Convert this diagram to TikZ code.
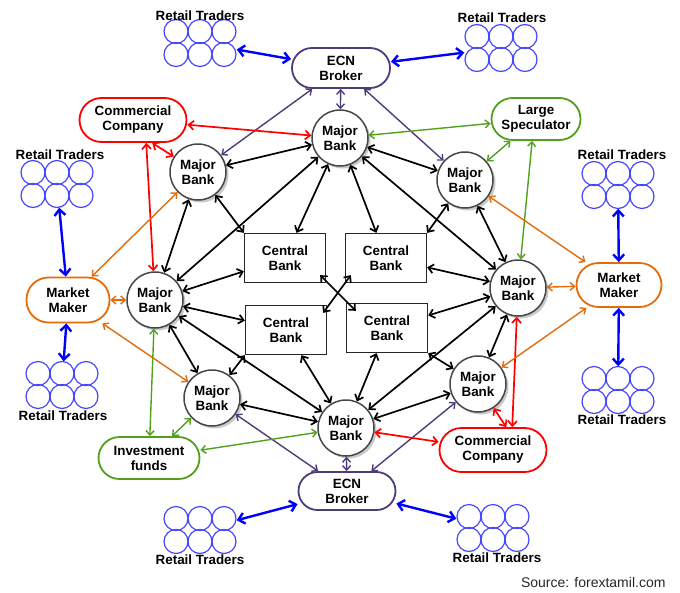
\documentclass[tikz,border=0pt]{standalone}
\usepackage{fontspec}
\setmainfont{Liberation Sans}
\usepackage{tikz}
\usetikzlibrary{calc,arrows.meta,shadows}

\definecolor{ecnpurple}{RGB}{78,60,122}
\definecolor{tradeblue}{RGB}{0,0,255}
\definecolor{ringblue}{RGB}{70,70,255}
\definecolor{specgreen}{RGB}{82,160,28}
\definecolor{makerorange}{RGB}{228,108,10}
\definecolor{bankgray}{RGB}{70,70,70}

\tikzset{
  bank/.style={circle, draw=bankgray, line width=1.5pt, fill=white, minimum size=56pt, inner sep=0pt, align=center,
    drop shadow={shadow xshift=2.5pt, shadow yshift=-2.5pt, fill=black!35, opacity=0.6}},
  central/.style={rectangle, draw=black!85, line width=1.3pt, fill=white, minimum width=81pt, minimum height=49pt, align=center},
  pill/.style={rectangle, draw=#1, line width=1.8pt, fill=white, align=center, inner sep=0pt},
  crowd/.style={rectangle, minimum width=73pt, minimum height=47pt, inner sep=0pt},
  ring/.style={draw=ringblue, line width=1.2pt},
  link/.style={<->, >={Straight Barb[length=5pt,width=9pt]}, line width=1.7pt, draw=#1},
  link/.default=black,
  thinlink/.style={link=#1, line width=1.4pt, >={Straight Barb[length=4.5pt,width=8pt]}},
  fatlink/.style={link=#1, line width=2.4pt, >={Straight Barb[length=6pt,width=11pt]}},
}

% a group of six retail traders
\newcommand{\traders}[2]{%
  \node[crowd] (#1) at (#2) {};
  \foreach \cx in {-24,0,24}
    \foreach \cy in {-11.5,11.5}
      \draw[ring] ($(#1)+(\cx,\cy)$) circle (12pt);
}

\begin{document}
\begin{tikzpicture}[x=1pt,y=-1pt,font=\fontsize{13.4}{15}\selectfont\bfseries]

\useasboundingbox (0,0) rectangle (680,592);

% major banks
\node[bank] (mbT) at (340,138) {Major\\Bank};
\node[bank] (mbUL) at (198,172) {Major\\Bank};
\node[bank] (mbUR) at (465,180) {Major\\Bank};
\node[bank] (mbL) at (155,300) {Major\\Bank};
\node[bank] (mbR) at (518,288) {Major\\Bank};
\node[bank] (mbLL) at (212,398) {Major\\Bank};
\node[bank] (mbLR) at (478,384) {Major\\Bank};
\node[bank] (mbB) at (346,428) {Major\\Bank};

% central banks
\node[central] (cbUL) at (285,258) {Central\\Bank};
\node[central] (cbUR) at (386,258) {Central\\Bank};
\node[central] (cbLL) at (286,330) {Central\\Bank};
\node[central] (cbLR) at (387,328) {Central\\Bank};

% other players
\node[pill=ecnpurple, minimum width=98pt, minimum height=40pt, rounded corners=20pt] (ecnT) at (341,68) {ECN\\Broker};
\node[pill=ecnpurple, minimum width=97pt, minimum height=38pt, rounded corners=19pt] (ecnB) at (347,491) {ECN\\Broker};
\node[pill=red, minimum width=107pt, minimum height=44pt, rounded corners=22pt] (ccT) at (133,120) {Commercial\\Company};
\node[pill=red, minimum width=107pt, minimum height=44pt, rounded corners=22pt] (ccB) at (493,450) {Commercial\\Company};
\node[pill=specgreen, minimum width=89pt, minimum height=42pt, rounded corners=21pt] (ls) at (536,119) {Large\\Speculator};
\node[pill=specgreen, minimum width=101pt, minimum height=42pt, rounded corners=21pt] (inv) at (149,458) {Investment\\funds};
\node[pill=makerorange, minimum width=83pt, minimum height=45pt, rounded corners=22pt] (mmL) at (68,300) {Market\\Maker};
\node[pill=makerorange, minimum width=85pt, minimum height=44pt, rounded corners=22pt] (mmR) at (619,285) {Market\\Maker};

% retail traders
\traders{rtTL}{200,43}
\traders{rtTR}{501,48}
\traders{rtLT}{57,184}
\traders{rtRT}{618,185}
\traders{rtLB}{62,385}
\traders{rtRB}{618,390}
\traders{rtBL}{200,530}
\traders{rtBR}{493,528}

\node (rtTLlbl) at (200,16) {Retail Traders};
\node (rtTRlbl) at (502,18) {Retail Traders};
\node (rtLTlbl) at (60,155) {Retail Traders};
\node (rtRTlbl) at (622,155) {Retail Traders};
\node (rtLBlbl) at (63,416) {Retail Traders};
\node (rtRBlbl) at (622,420) {Retail Traders};
\node (rtBLlbl) at (200,560) {Retail Traders};
\node (rtBRlbl) at (497,558) {Retail Traders};

% ring of major banks
\draw[link] (mbT) -- (mbUL);
\draw[link] (mbT) -- (mbUR);
\draw[link] (mbUL) -- (mbL);
\draw[link] (mbUR) -- (mbR);
\draw[link] (mbL) -- (mbLL);
\draw[link] (mbR) -- (mbLR);
\draw[link] (mbLL) -- (mbB);
\draw[link] (mbLR) -- (mbB);
\draw[link] (mbT) -- (mbL);
\draw[link] (mbT) -- (mbR);
\draw[link] (mbB) -- (mbL);
\draw[link] (mbB) -- (mbR);

% major banks to central banks
\draw[link] (mbUL) -- (cbUL.north west);
\draw[link] (mbT) -- (cbUL);
\draw[link] (mbL) -- (cbUL);
\draw[link] (mbT) -- (cbUR);
\draw[link] (mbUR) -- (cbUR.north east);
\draw[link] (mbR) -- (cbUR);
\draw[link] (mbL) -- (cbLL);
\draw[link] (mbLL) -- (cbLL.south west);
\draw[link] (mbB) -- (cbLL);
\draw[link] (mbR) -- (cbLR);
\draw[link] (mbLR) -- (cbLR.south east);
\draw[link] (mbB) -- (cbLR);
\draw[link] ([shift={(-6,-8)}]cbUL.south east) -- ([shift={(10,8)}]cbLR.north west);
\draw[link] ([shift={(6,-8)}]cbUR.south west) -- ([shift={(-4,8)}]cbLL.north east);

% ECN brokers
\draw[thinlink=ecnpurple] (ecnT) -- (mbT);
\draw[thinlink=ecnpurple] (ecnT) -- (mbUL);
\draw[thinlink=ecnpurple] (ecnT) -- (mbUR);
\draw[thinlink=ecnpurple] (ecnB) -- (mbB);
\draw[thinlink=ecnpurple] (ecnB) -- (mbLL);
\draw[thinlink=ecnpurple] (ecnB) -- (mbLR);

% commercial companies
\draw[link=red] (ccT) -- (mbT);
\draw[link=red] (ccT.-50) -- (mbUL);
\draw[link=red] (ccT.-60) -- (mbL);
\draw[link=red] (ccB) -- (mbB);
\draw[link=red] (ccB.60) -- (mbLR);
\draw[link=red] (ccB.50) -- (mbR);

% speculators and funds
\draw[thinlink=specgreen] (ls) -- (mbT);
\draw[thinlink=specgreen] (ls) -- (mbUR);
\draw[thinlink=specgreen] (ls.-100) -- (mbR);
\draw[thinlink=specgreen] (inv) -- (mbB);
\draw[thinlink=specgreen] (inv) -- (mbLL);
\draw[thinlink=specgreen] (inv) -- (mbL);

% market makers
\draw[thinlink=makerorange] (mmL) -- (mbUL);
\draw[thinlink=makerorange] (mmL) -- (mbL);
\draw[thinlink=makerorange] (mmL) -- (mbLL);
\draw[thinlink=makerorange] (mmR) -- (mbUR);
\draw[thinlink=makerorange] (mmR) -- (mbR);
\draw[thinlink=makerorange] (mmR) -- (mbLR);

% retail traders to brokers and makers
\draw[fatlink=tradeblue] (rtTL) -- (ecnT);
\draw[fatlink=tradeblue] (rtTR) -- (ecnT);
\draw[fatlink=tradeblue] (rtLT) -- (mmL);
\draw[fatlink=tradeblue] (rtLB) -- (mmL);
\draw[fatlink=tradeblue] (rtRT) -- (mmR);
\draw[fatlink=tradeblue] (rtRB) -- (mmR);
\draw[fatlink=tradeblue] (rtBL) -- (ecnB);
\draw[fatlink=tradeblue] (rtBR) -- (ecnB);

\node[anchor=east, font=\fontsize{14}{16}\selectfont, text=black!85] (src) at (669,582) {Source: forextamil.com};

\end{tikzpicture}
\end{document}
